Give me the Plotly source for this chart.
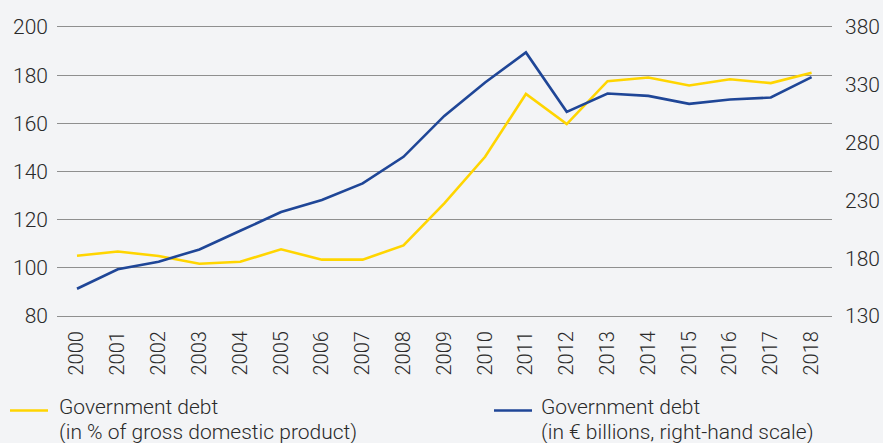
import plotly.graph_objects as go

years = list(range(2000, 2019))
debt_pct_gdp = [105.0, 106.8, 104.9, 101.7, 102.5, 107.7, 103.4, 103.4, 109.3, 126.8,
                146.1, 172.2, 159.7, 177.5, 179.0, 175.7, 178.3, 176.7, 181.0]
debt_eur_bn = [153.6, 170.4, 177.0, 187.6, 203.7, 219.9, 230.3, 244.7, 267.7, 303.1,
               332.0, 358.0, 306.6, 322.5, 320.4, 313.5, 317.3, 319.0, 336.6]
left_ticks = [80, 100, 120, 140, 160, 180, 200]
right_ticks = [130, 180, 230, 280, 330, 380]

name_pct = ["Government debt", "(in % of gross domestic product)"]
name_eur = ["Government debt", "(in € billions, right-hand scale)"]

YELLOW = "#ffd500"
BLUE = "#1f4697"
BG = "#f3f4f6"
GRID = "#8f8f8f"
TXT = "#2a2a2a"
FONT = "Roboto Light, Roboto"

W, H = 883, 443
L, R, T, B = 57, 51, 27, 127
PW, PH = W - L - R, H - T - B


def px(x):  # window pixel x -> paper
    return (x - L) / PW


def py(y):  # window pixel y -> paper
    return (H - B - y) / PH


fig = go.Figure()
fig.add_trace(go.Scatter(x=years, y=debt_pct_gdp, name="<br>".join(name_pct), mode="lines",
                         line=dict(color=YELLOW, width=2.6), yaxis="y"))
fig.add_trace(go.Scatter(x=years, y=debt_eur_bn, name="<br>".join(name_eur), mode="lines",
                         line=dict(color=BLUE, width=2.6), yaxis="y2"))

legend_items = [(name_pct, YELLOW, 10, 48, 57), (name_eur, BLUE, 494, 532, 539)]
for lines, col, x0, x1, xt in legend_items:
    fig.add_shape(type="line", xref="paper", yref="paper",
                  x0=px(x0), x1=px(x1), y0=py(410.5), y1=py(410.5),
                  line=dict(color=col, width=2.6))
    for i, (txt, ytop) in enumerate(zip(lines, (393, 418))):
        fig.add_annotation(text=txt, xref="paper", yref="paper", x=px(xt), y=py(ytop),
                           xanchor="left", yanchor="top", align="left", showarrow=False,
                           font=dict(family=FONT, size=21, color=TXT, weight=300))

fig.update_layout(
    width=W, height=H,
    margin=dict(l=L, r=R, t=T, b=B, autoexpand=False),
    paper_bgcolor=BG, plot_bgcolor=BG,
    font=dict(family=FONT, size=21, color=TXT, weight=300),
    showlegend=False,
    xaxis=dict(range=[1999.51, 2018.5], tickvals=years, ticktext=[str(y) for y in years],
               tickangle=-90, showgrid=False, zeroline=False,
               showline=True, mirror=True, linecolor=GRID, linewidth=1.3,
               ticks="", ticklabelstandoff=6, automargin=False,
               tickfont=dict(family=FONT, size=20, color=TXT, weight=300)),
    yaxis=dict(range=[80, 200], tickvals=left_ticks, showgrid=True, gridcolor=GRID,
               gridwidth=1.3, zeroline=False, showline=False, ticks="",
               ticklabelstandoff=8, automargin=False,
               tickfont=dict(family=FONT, size=21, color=TXT, weight=300)),
    yaxis2=dict(range=[130, 380], tickvals=right_ticks, overlaying="y", side="right",
                showgrid=False, zeroline=False, showline=False, ticks="",
                ticklabelstandoff=12, automargin=False,
                tickfont=dict(family=FONT, size=21, color=TXT, weight=300)),
)

fig.write_html(
    "out.html",
    config={"displayModeBar": False},
    post_script="document.body.style.margin='0px';document.body.style.padding='0px';"
                "document.body.style.background='" + BG + "';"
                "document.body.style.overflow='hidden';",
)
